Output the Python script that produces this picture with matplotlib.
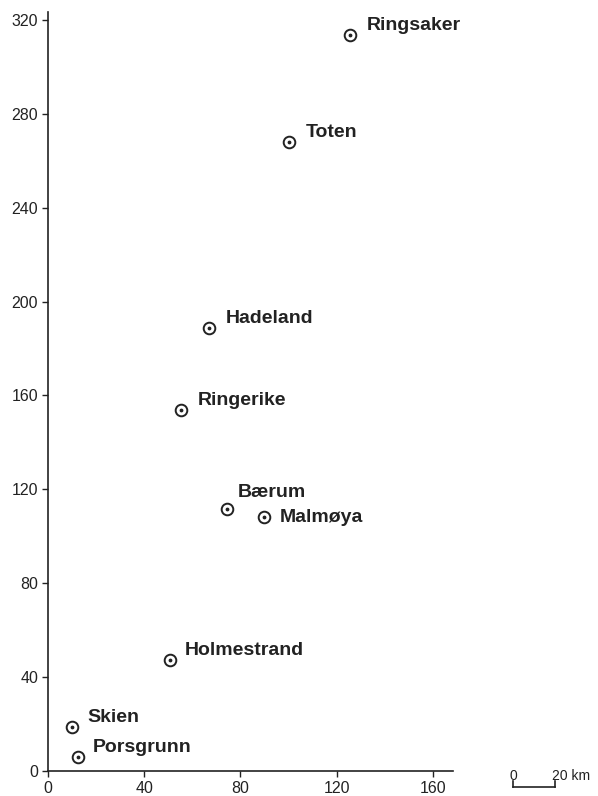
import matplotlib.pyplot as plt

# sites and their positions (km)
sites = ["Ringsaker", "Toten", "Hadeland", "Ringerike", "Bærum",
         "Malmøya", "Holmestrand", "Skien", "Porsgrunn"]
x_km = [125.5, 100.2, 66.9, 55.3, 74.4, 89.8, 50.7, 10.0, 12.5]
y_km = [313.6, 268.0, 188.8, 153.8, 111.6, 108.2, 47.3, 18.7, 6.0]

# label offsets in points
offsets = {
    "Ringsaker": (12, 7), "Toten": (12, 7), "Hadeland": (12, 7),
    "Ringerike": (12, 7), "Bærum": (8, 12), "Malmøya": (11, 0),
    "Holmestrand": (11, 7), "Skien": (11, 7), "Porsgrunn": (11, 7),
}

xticks = [0, 40, 80, 120, 160]
yticks = [0, 40, 80, 120, 160, 200, 240, 280, 320]

plt.rcParams['font.family'] = ['Liberation Sans', 'DejaVu Sans']
ink = "#222222"

fig = plt.figure(figsize=(5.98, 7.96), dpi=100)
ax = fig.add_axes([0.080, 0.0314, 0.6775, 0.9536])

ax.scatter(x_km, y_km, s=70, facecolor="white", edgecolor=ink, linewidth=1.4, zorder=3)
ax.scatter(x_km, y_km, s=3, color=ink, zorder=4)

for name, xv, yv in zip(sites, x_km, y_km):
    dx, dy = offsets[name]
    ax.annotate(name, (xv, yv), xytext=(dx, dy), textcoords="offset points",
                fontsize=14, fontweight="bold", color=ink, va="center", ha="left")

ax.set_xlim(0, 168.3)
ax.set_ylim(0, 323.4)
ax.set_xticks(xticks)
ax.set_yticks(yticks)
ax.tick_params(labelsize=11.5, colors=ink, length=4, width=1, pad=3)
for side in ["top", "right"]:
    ax.spines[side].set_visible(False)
for side in ["left", "bottom"]:
    ax.spines[side].set_color(ink)
    ax.spines[side].set_linewidth(1.2)

# scale bar
bx0, bx1, by = 513 / 598, 555 / 598, 1 - 787 / 796
fig.add_artist(plt.Line2D([bx0, bx1], [by, by], color=ink, lw=1.2))
for bx in (bx0, bx1):
    fig.add_artist(plt.Line2D([bx, bx], [by, by + 6 / 796], color=ink, lw=1.2))
fig.text(bx0, 1 - 776 / 796, "0", fontsize=10, color=ink, ha="center", va="center")
fig.text(bx1 - 3 / 598, 1 - 776 / 796, "20 km", fontsize=10, color=ink, ha="left", va="center")

fig.savefig("out.png", dpi=100)
